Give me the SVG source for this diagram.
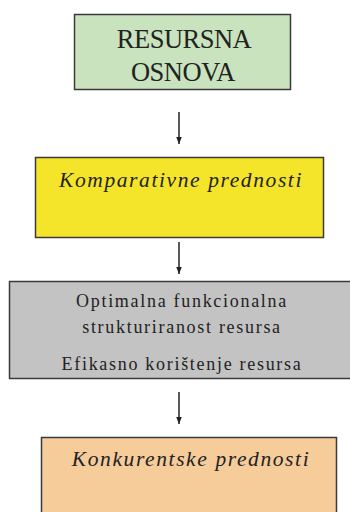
<svg xmlns="http://www.w3.org/2000/svg" width="350" height="512" viewBox="0 0 350 512">
<style>
.box{stroke:#3a3a3a;stroke-width:1.5}
.t{font-family:"Liberation Serif","Times New Roman",serif;fill:#222;text-anchor:middle}
.conn{stroke:#222;stroke-width:1.5;fill:none}
</style>
<defs>
<marker id="ah" viewBox="0 0 10 10" refX="10" refY="5" markerWidth="7" markerHeight="7" markerUnits="userSpaceOnUse" orient="auto">
<path d="M0,1 L10,5 L0,9 Z" fill="#222"/>
</marker>
</defs>
<rect width="350" height="512" fill="#fff"/>
<g id="n1">
<rect class="box" x="74.5" y="14.5" width="216" height="75" fill="#c8e3bd"/>
<text class="t" x="184" y="48" font-size="26.5" letter-spacing="-0.5">RESURSNA</text>
<text class="t" x="183" y="81" font-size="26.5" letter-spacing="-0.5">OSNOVA</text>
</g>
<g id="n2">
<rect class="box" x="35.5" y="157.5" width="288" height="80" fill="#f5e52a"/>
<text class="t" x="181" y="187" font-size="21.5" font-style="italic" letter-spacing="1.6">Komparativne prednosti</text>
</g>
<g id="n3">
<rect class="box" x="9.5" y="281.5" width="345" height="97" fill="#c3c3c3"/>
<text class="t" x="182" y="307" font-size="18" letter-spacing="1.7">Optimalna funkcionalna</text>
<text class="t" x="182" y="333" font-size="18" letter-spacing="1.7">strukturiranost resursa</text>
<text class="t" x="182" y="370" font-size="18" letter-spacing="1.7">Efikasno korištenje resursa</text>
</g>
<g id="n4">
<rect class="box" x="41.5" y="437.5" width="295" height="80" fill="#f6cc9b"/>
<text class="t" x="191" y="466" font-size="21.5" font-style="italic" letter-spacing="1.6">Konkurentske prednosti</text>
</g>
<g id="connectors">
<line class="conn" x1="179" y1="112" x2="179" y2="144" marker-end="url(#ah)"/>
<line class="conn" x1="179" y1="242" x2="179" y2="274" marker-end="url(#ah)"/>
<line class="conn" x1="179" y1="392" x2="179" y2="424" marker-end="url(#ah)"/>
</g>
</svg>
